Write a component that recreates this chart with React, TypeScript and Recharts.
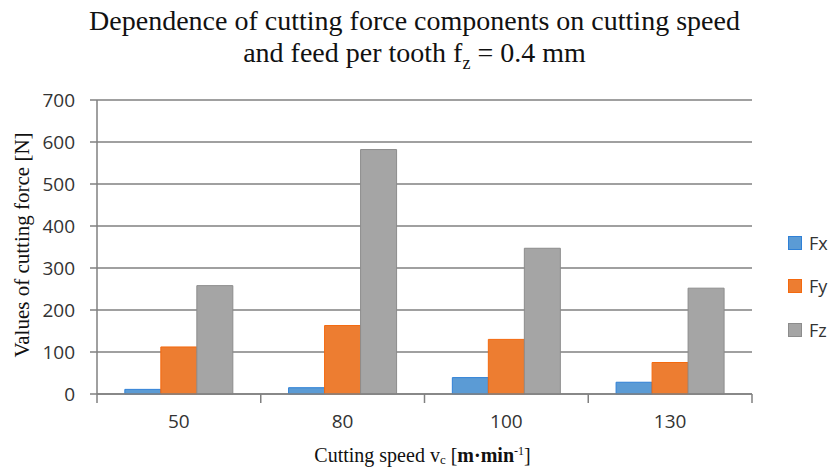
import { BarChart, Bar, XAxis, YAxis, CartesianGrid, Legend } from 'recharts';

const speeds = ['50', '80', '100', '130'];
const fx = [11, 15, 39, 28];
const fy = [112, 163, 130, 75];
const fz = [258, 582, 347, 252];
const yTicks = [0, 100, 200, 300, 400, 500, 600, 700];

const seriesInfo = [
  { key: 'Fx', fill: '#5b9bd5', stroke: '#2f80d6' },
  { key: 'Fy', fill: '#ed7d31', stroke: '#f4690e' },
  { key: 'Fz', fill: '#a5a5a5', stroke: '#8c8c8c' },
];

const chartData = speeds.map((s, i) => ({ speed: s, Fx: fx[i], Fy: fy[i], Fz: fz[i] }));

const W = 829;
const H = 471;
const LEFT = 97;
const RIGHT = 77;
const TOP = 100;
const XAXIS_H = 77;
const BAND = (W - LEFT - RIGHT) / speeds.length;
const LINE = '#808080';

const tickFont = '"Open Sans", sans-serif';
const serif = '"Liberation Serif", "Times New Roman", serif';

function XTick(props: any) {
  const { x, y, payload, index } = props;
  const axisY = y - 21;
  const half = BAND / 2;
  return (
    <g>
      <line x1={x - half} x2={x - half} y1={axisY} y2={axisY + 9} stroke={LINE} strokeWidth={1.5} />
      {index === speeds.length - 1 && (
        <line x1={x + half} x2={x + half} y1={axisY} y2={axisY + 9} stroke={LINE} strokeWidth={1.5} />
      )}
      <text x={x} y={y} dy="0.71em" textAnchor="middle" fill="#333" fontSize={19} fontFamily={tickFont}>
        {payload.value}
      </text>
    </g>
  );
}

function LegendBox() {
  return (
    <div style={{ fontFamily: tickFont, fontSize: 18, color: '#333' }}>
      {seriesInfo.map((s) => (
        <div key={s.key} style={{ display: 'flex', alignItems: 'center', height: 43.5 }}>
          <span
            style={{
              display: 'inline-block',
              width: 12,
              height: 12,
              background: s.fill,
              border: `1px solid ${s.stroke}`,
              marginRight: 7,
            }}
          />
          {s.key}
        </div>
      ))}
    </div>
  );
}

export default function App() {
  return (
    <div style={{ position: 'absolute', left: 0, top: 0, width: W, height: H, background: '#fff', overflow: 'hidden' }}>
      <div
        style={{
          position: 'absolute',
          left: 0,
          top: 5,
          width: W,
          textAlign: 'center',
          fontFamily: serif,
          fontSize: 28,
          lineHeight: '32px',
          color: '#111',
        }}
      >
        Dependence of cutting force components on cutting speed
        <br />
        and feed per tooth f<sub style={{ fontSize: 18, lineHeight: 0 }}>z</sub> = 0.4 mm
      </div>
      <BarChart
        width={W}
        height={H}
        data={chartData}
        margin={{ top: TOP, right: RIGHT, bottom: 0, left: 0 }}
        barCategoryGap="17%"
        barGap={0}
      >
        <CartesianGrid vertical={false} stroke={LINE} strokeWidth={1.5} />
        <XAxis
          dataKey="speed"
          height={XAXIS_H}
          stroke={LINE}
          strokeWidth={1.5}
          tickLine={false}
          tickSize={9}
          tickMargin={12}
          tick={<XTick />}
          interval={0}
        />
        <YAxis
          width={LEFT}
          domain={[0, 700]}
          ticks={yTicks}
          interval={0}
          stroke={LINE}
          strokeWidth={1.5}
          tickSize={7}
          tickMargin={15}
          tick={{ fill: '#333', fontSize: 19, fontFamily: tickFont }}
        />
        <Legend
          layout="vertical"
          align="center"
          verticalAlign="middle"
          wrapperStyle={{ left: 788, top: 221, width: 41 }}
          content={<LegendBox />}
        />
        {seriesInfo.map((s) => (
          <Bar
            key={s.key}
            dataKey={s.key}
            fill={s.fill}
            stroke={s.stroke}
            strokeWidth={1}
            isAnimationActive={false}
          />
        ))}
      </BarChart>
      <div
        style={{
          position: 'absolute',
          left: 0,
          top: 444,
          width: W,
          paddingLeft: 16,
          boxSizing: 'border-box',
          textAlign: 'center',
          fontFamily: serif,
          fontSize: 20,
          lineHeight: '22px',
          color: '#111',
        }}
      >
        Cutting speed v<span style={{ fontSize: 13, verticalAlign: '-0.15em', lineHeight: 0 }}>c</span> [
        <b>m·min</b>
        <span style={{ fontSize: 12, verticalAlign: '0.6em', lineHeight: 0 }}>-1</span>]
      </div>
      <div
        style={{
          position: 'absolute',
          left: 22,
          top: 245,
          transform: 'translate(-50%, -50%) rotate(-90deg)',
          whiteSpace: 'nowrap',
          fontFamily: serif,
          fontSize: 21,
          lineHeight: '22px',
          color: '#111',
        }}
      >
        Values of cutting force [N]
      </div>
    </div>
  );
}
